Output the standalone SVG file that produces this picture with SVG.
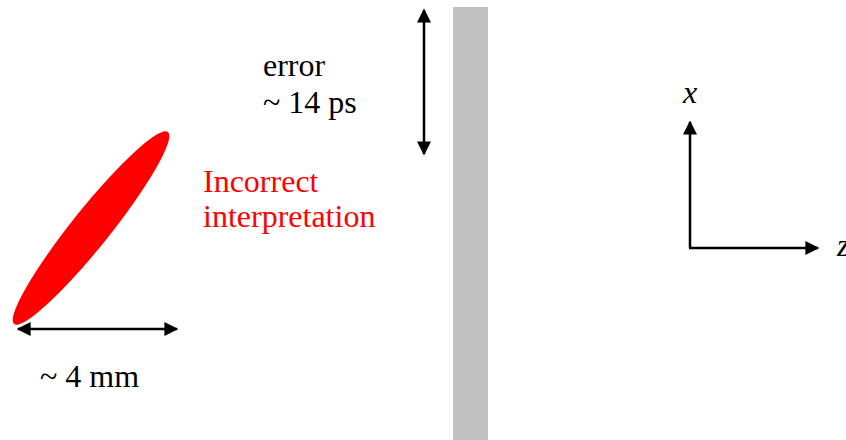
<svg xmlns="http://www.w3.org/2000/svg" width="846" height="440" viewBox="0 0 846 440">
<style>
text{font-family:'Liberation Serif','Times New Roman',serif;font-size:32px;fill:#000}
.red{fill:#ff0000}
.it{font-style:italic}
.ln{stroke:#000;stroke-width:2.5;fill:none}
</style>
<defs>
<marker id="ah" viewBox="0 0 10 10" refX="9" refY="5" markerWidth="17" markerHeight="14" markerUnits="userSpaceOnUse" orient="auto-start-reverse">
<path d="M0,0 L10,5 L0,10 Z" fill="#000"/>
</marker>
</defs>
<rect id="wall" x="453" y="7" width="35" height="433" fill="#c0c0c0"/>
<g id="bunch">
<ellipse cx="91" cy="228" rx="123" ry="19" transform="rotate(-51.3 91 228)" fill="#ff0000"/>
</g>
<g id="connectors">
<line class="ln" x1="424" y1="10" x2="424" y2="154" marker-start="url(#ah)" marker-end="url(#ah)"/>
<line class="ln" x1="18" y1="329" x2="177" y2="329" marker-start="url(#ah)" marker-end="url(#ah)"/>
<line class="ln" x1="690" y1="248" x2="690" y2="122" marker-end="url(#ah)"/>
<line class="ln" x1="689" y1="248" x2="818" y2="248" marker-end="url(#ah)"/>
</g>
<g id="labels" font-family="Liberation Serif, Times New Roman, serif">
<text x="263" y="76">error</text>
<text x="263" y="113">~ 14 ps</text>
<text class="red" x="203" y="192">Incorrect</text>
<text class="red" x="203" y="227">interpretation</text>
<text x="40" y="387">~ 4 mm</text>
<text class="it" x="683" y="103">x</text>
<text class="it" x="837" y="256">z</text>
</g>
</svg>
